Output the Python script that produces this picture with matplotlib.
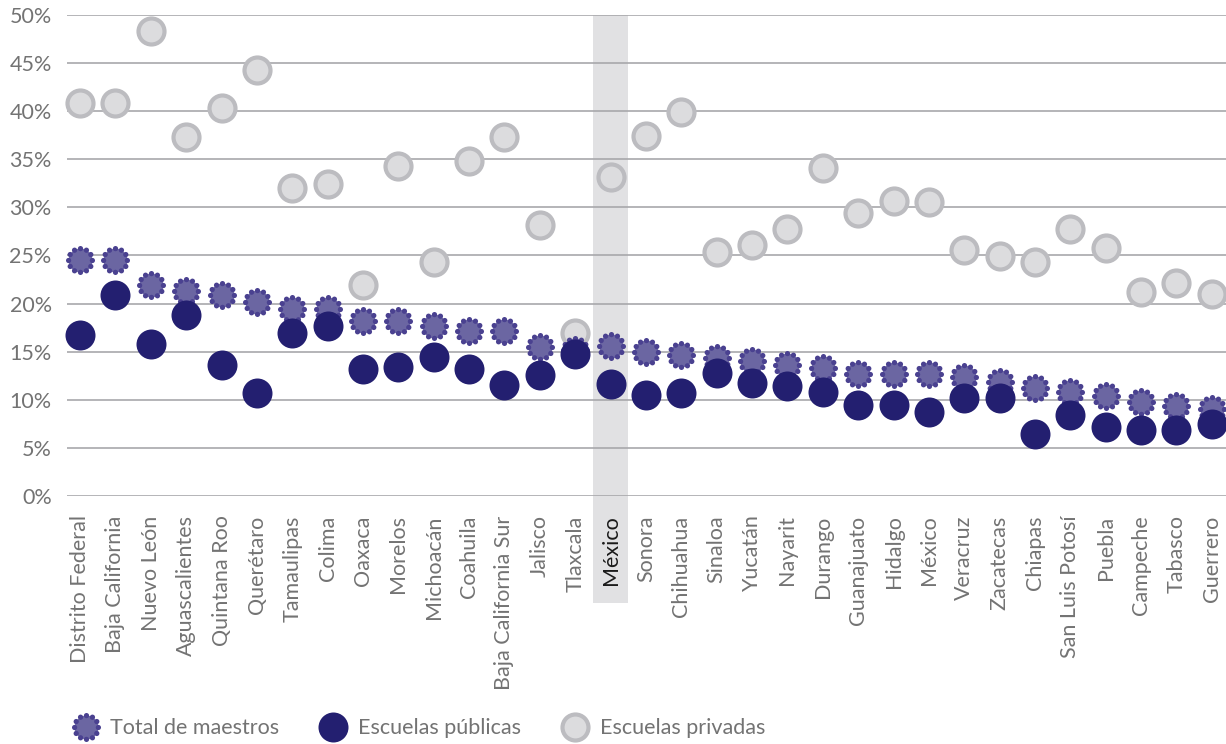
import numpy as np
import matplotlib
matplotlib.use("Agg")
import matplotlib.pyplot as plt
from matplotlib.path import Path
from matplotlib.markers import MarkerStyle
from matplotlib.lines import Line2D
from matplotlib.patches import Rectangle
from matplotlib.legend_handler import HandlerTuple

plt.rcParams['font.family'] = ['Lato', 'DejaVu Sans']
plt.rcParams['font.weight'] = 'normal'

estados = ['Distrito Federal', 'Baja California', 'Nuevo León', 'Aguascalientes',
           'Quintana Roo', 'Querétaro', 'Tamaulipas', 'Colima', 'Oaxaca', 'Morelos',
           'Michoacán', 'Coahuila', 'Baja California Sur', 'Jalisco', 'Tlaxcala',
           'México', 'Sonora', 'Chihuahua', 'Sinaloa', 'Yucatán', 'Nayarit',
           'Durango', 'Guanajuato', 'Hidalgo', 'México', 'Veracruz', 'Zacatecas',
           'Chiapas', 'San Luis Potosí', 'Puebla', 'Campeche', 'Tabasco', 'Guerrero']

total = [24.5, 24.5, 21.9, 21.3, 20.9, 20.2, 19.4, 19.4, 18.2, 18.2, 17.7,
         17.2, 17.2, 15.5, 15.2, 15.6, 15.0, 14.7, 14.3, 14.0, 13.6, 13.3,
         12.7, 12.7, 12.7, 12.4, 11.9, 11.2, 10.8, 10.4, 9.8, 9.4, 9.0]

publicas = [16.7, 20.9, 15.8, 18.8, 13.6, 10.7, 16.9, 17.7, 13.2, 13.4, 14.4,
            13.2, 11.5, 12.6, 14.8, 11.6, 10.5, 10.7, 12.8, 11.7, 11.4, 10.8,
            9.5, 9.5, 8.7, 10.2, 10.2, 6.4, 8.4, 7.2, 6.9, 6.9, 7.5]

privadas = [40.85, 40.85, 48.3, 37.3, 40.3, 44.3, 32.0, 32.4, 21.9, 34.3, 24.3,
            34.8, 37.3, 28.2, 16.9, 33.2, 37.4, 39.9, 25.4, 26.1, 27.8, 34.1,
            29.4, 30.7, 30.6, 25.6, 24.9, 24.3, 27.8, 25.8, 21.2, 22.1, 21.0]

idx_nacional = 15

c_pub = '#231f70'
c_tot = '#6b66a2'
c_tot_dot = '#4a4190'
c_priv = '#dcdcde'
c_priv_borde = '#bcbcc0'
c_texto = '#737373'
fs = 15.5

# marcador "total": anillo de puntos alrededor de un circulo
R, r = 1.0, 0.22
puntos = []
for a in np.linspace(0, 2 * np.pi, 12, endpoint=False):
    puntos.append(Path.circle((R * np.cos(a), R * np.sin(a)), r))
m_puntos = MarkerStyle(Path.make_compound_path(*puntos))
m_centro = MarkerStyle(Path.circle((0, 0), R))

fig = plt.figure(figsize=(12.26, 7.44), dpi=100)
ax = fig.add_axes([67 / 1226, 1 - 496 / 744, 1 - 67 / 1226, 481 / 744])

x = np.arange(len(estados))

ax.add_patch(Rectangle((idx_nacional - 0.5, -0.222), 1.0, 1.222,
                       transform=ax.get_xaxis_transform(), facecolor='#e1e1e3',
                       edgecolor='none', clip_on=False, zorder=0))

d_tot = 29 * 0.72
d_centro = d_tot / (R + r) * R

ax.scatter(x, privadas, s=(26 * 0.72) ** 2, facecolor=c_priv, edgecolor=c_priv_borde,
           linewidth=3.0, zorder=3, clip_on=False)
ax.scatter(x, total, s=d_centro ** 2, marker=m_centro, color=c_tot, linewidth=0,
           zorder=4, clip_on=False)
ax.scatter(x, total, s=d_tot ** 2, marker=m_puntos, color=c_tot_dot, linewidth=0,
           zorder=4.1, clip_on=False)
ax.scatter(x, publicas, s=(30 * 0.72) ** 2, color=c_pub, linewidth=0,
           zorder=5, clip_on=False)

ax.set_xlim(-0.37, 32.4)
ax.set_ylim(0, 50)
ax.set_yticks(np.arange(0, 51, 5))
ax.set_yticklabels([f'{v}%' for v in range(0, 51, 5)])
ax.set_xticks(x)
ax.set_xticklabels(estados, rotation=90, va='top', ha='center')
ax.tick_params(axis='both', length=0, labelsize=fs, labelcolor=c_texto)
ax.tick_params(axis='y', pad=11)
ax.tick_params(axis='x', pad=14)
ax.get_xticklabels()[idx_nacional].set_color('#1a1a1a')
ax.grid(axis='y', color='#a8a8ab', linewidth=1.2)
ax.set_axisbelow(True)
for s in ax.spines.values():
    s.set_visible(False)

h_tot = (Line2D([], [], linestyle='none', marker=m_centro, markersize=d_centro,
                color=c_tot, markeredgewidth=0),
         Line2D([], [], linestyle='none', marker=m_puntos, markersize=d_tot,
                color=c_tot_dot, markeredgewidth=0))
h_pub = Line2D([], [], linestyle='none', marker='o', markersize=30 * 0.72,
               color=c_pub, markeredgewidth=0)
h_priv = Line2D([], [], linestyle='none', marker='o', markersize=26 * 0.72,
                markerfacecolor=c_priv, markeredgecolor=c_priv_borde, markeredgewidth=3.0)

fig.legend([h_tot, h_pub, h_priv],
           ['Total de maestros', 'Escuelas públicas', 'Escuelas privadas'],
           handler_map={tuple: HandlerTuple(ndivide=1)},
           loc='center left', bbox_to_anchor=(62 / 1226, 0.021), ncol=3,
           frameon=False, fontsize=fs, handlelength=1.2, handletextpad=0.55,
           columnspacing=1.9, borderpad=0, labelcolor=c_texto)

fig.savefig('out.png', dpi=100)
